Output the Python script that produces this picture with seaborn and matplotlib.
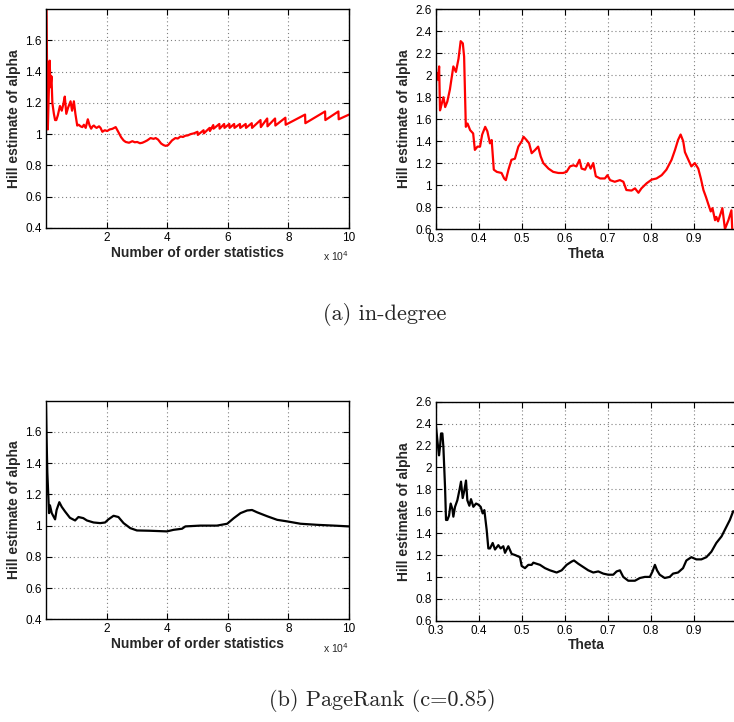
import matplotlib
matplotlib.use("Agg")
import matplotlib.pyplot as plt
import numpy as np
import pandas as pd
import seaborn as sns
from matplotlib.ticker import FormatStrFormatter

# ---- Hill estimates versus number of order statistics (x in units of 10^4) ----
indeg_k = [0.00, 0.02, 0.04, 0.06, 0.09, 0.12, 0.15, 0.18, 0.21, 0.26, 0.30, 0.34,
           0.39, 0.46, 0.52, 0.57, 0.62, 0.67, 0.73, 0.81, 0.86, 0.92, 0.97, 1.03,
           1.08, 1.14, 1.20, 1.25, 1.31, 1.38, 1.44, 1.49, 1.54, 1.58, 1.63, 1.67,
           1.75, 1.80, 1.86, 1.94, 2.02, 2.10, 2.19, 2.30, 2.37, 2.48, 2.56, 2.63,
           2.74, 2.85, 2.93, 3.01, 3.10, 3.18, 3.26, 3.34, 3.45, 3.55, 3.62, 3.70,
           3.80, 3.88, 3.95, 4.03, 4.16, 4.27, 4.35, 4.44, 4.52, 4.60, 4.68, 4.77,
           4.88, 5.00, 5.01, 5.20, 5.21, 5.40, 5.41, 5.52, 5.53, 5.72, 5.73, 5.88,
           5.89, 6.05, 6.06, 6.21, 6.22, 6.40, 6.41, 6.59, 6.60, 6.79, 6.80, 7.08,
           7.09, 7.30, 7.31, 7.56, 7.57, 7.90, 7.91, 8.55, 8.56, 9.21, 9.22, 9.65,
           9.66, 10.00]
indeg_hill_k = [2.00, 1.75, 1.30, 1.03, 1.25, 1.47, 1.30, 1.37, 1.20, 1.13, 1.09, 1.09,
                1.12, 1.18, 1.15, 1.19, 1.24, 1.13, 1.17, 1.21, 1.15, 1.21, 1.13, 1.055,
                1.06, 1.05, 1.045, 1.06, 1.04, 1.095, 1.055, 1.035, 1.05, 1.055, 1.045, 1.04,
                1.05, 1.04, 1.015, 1.025, 1.02, 1.03, 1.034, 1.045, 1.02, 0.98, 0.96, 0.95,
                0.945, 0.955, 0.948, 0.95, 0.942, 0.945, 0.952, 0.96, 0.975, 0.97, 0.975, 0.965,
                0.94, 0.93, 0.925, 0.93, 0.96, 0.975, 0.972, 0.985, 0.982, 0.99, 0.992, 1.00,
                1.005, 1.015, 0.995, 1.025, 1.005, 1.04, 1.02, 1.058, 1.035, 1.065, 1.035, 1.065,
                1.04, 1.065, 1.04, 1.065, 1.04, 1.065, 1.04, 1.065, 1.04, 1.07, 1.04, 1.09,
                1.045, 1.10, 1.05, 1.10, 1.055, 1.105, 1.06, 1.125, 1.07, 1.145, 1.09, 1.145,
                1.095, 1.125]

pr_k = [0.00, 0.02, 0.044, 0.10, 0.13, 0.19, 0.30, 0.35, 0.44, 0.52, 0.63, 0.79,
        0.96, 1.07, 1.23, 1.35, 1.57, 1.79, 1.95, 2.06, 2.23, 2.39, 2.56, 2.78,
        3.00, 3.44, 3.99, 4.21, 4.49, 4.60, 5.09, 5.64, 5.98, 6.20, 6.42, 6.64,
        6.80, 6.97, 7.30, 7.63, 7.96, 8.40, 8.95, 9.50, 10.00]
pr_hill_k = [1.78, 1.55, 1.34, 1.08, 1.13, 1.08, 1.04, 1.10, 1.15, 1.12, 1.09, 1.05,
             1.033, 1.055, 1.048, 1.033, 1.02, 1.016, 1.02, 1.04, 1.063, 1.055, 1.016, 0.984,
             0.969, 0.967, 0.963, 0.973, 0.98, 0.995, 1.0, 1.0, 1.012, 1.048, 1.08, 1.097,
             1.10, 1.085, 1.06, 1.037, 1.027, 1.012, 1.005, 1.0, 0.995]

# ---- Hill estimates versus theta ----
indeg_theta = [0.300, 0.302, 0.305, 0.308, 0.310, 0.314, 0.318, 0.322, 0.327, 0.333,
               0.341, 0.347, 0.353, 0.358, 0.363, 0.366, 0.370, 0.374, 0.380, 0.387,
               0.391, 0.397, 0.403, 0.408, 0.415, 0.420, 0.426, 0.430, 0.435, 0.442,
               0.453, 0.459, 0.463, 0.469, 0.476, 0.484, 0.492, 0.500, 0.504, 0.511,
               0.517, 0.523, 0.531, 0.538, 0.544, 0.550, 0.562, 0.573, 0.585, 0.596,
               0.604, 0.612, 0.620, 0.627, 0.634, 0.639, 0.647, 0.654, 0.660, 0.666,
               0.672, 0.682, 0.693, 0.699, 0.705, 0.716, 0.728, 0.736, 0.743, 0.755,
               0.763, 0.771, 0.778, 0.790, 0.802, 0.813, 0.825, 0.836, 0.848, 0.856,
               0.863, 0.869, 0.875, 0.879, 0.887, 0.894, 0.902, 0.910, 0.916, 0.922,
               0.928, 0.933, 0.939, 0.943, 0.949, 0.952, 0.956, 0.962, 0.966, 0.972,
               0.980, 0.987, 0.989, 0.995]
indeg_hill_theta = [1.90, 2.02, 1.96, 2.08, 1.68, 1.74, 1.80, 1.71, 1.76, 1.87,
                    2.08, 2.03, 2.15, 2.31, 2.29, 2.17, 1.53, 1.56, 1.50, 1.47,
                    1.32, 1.35, 1.35, 1.46, 1.53, 1.49, 1.38, 1.41, 1.14, 1.12,
                    1.11, 1.06, 1.045, 1.14, 1.23, 1.24, 1.35, 1.40, 1.44, 1.41,
                    1.38, 1.29, 1.32, 1.35, 1.26, 1.20, 1.15, 1.12, 1.11, 1.11,
                    1.12, 1.17, 1.18, 1.17, 1.23, 1.15, 1.14, 1.20, 1.15, 1.20,
                    1.08, 1.06, 1.06, 1.09, 1.045, 1.03, 1.045, 1.03, 0.955, 0.95,
                    0.97, 0.93, 0.97, 1.016, 1.05, 1.06, 1.09, 1.14, 1.23, 1.32,
                    1.41, 1.46, 1.40, 1.30, 1.23, 1.17, 1.20, 1.15, 1.06, 0.955,
                    0.89, 0.83, 0.76, 0.79, 0.68, 0.71, 0.67, 0.74, 0.79, 0.60,
                    0.68, 0.77, 0.59, 0.55]

pr_theta = [0.3000, 0.3023, 0.3046, 0.3077, 0.3101, 0.3124, 0.3155, 0.3178, 0.3217, 0.3240,
            0.3271, 0.3310, 0.3348, 0.3387, 0.3410, 0.3449, 0.3503, 0.3550, 0.3588, 0.3627,
            0.3666, 0.3704, 0.3735, 0.3782, 0.3820, 0.3875, 0.3937, 0.3991, 0.4045, 0.4091,
            0.4130, 0.4184, 0.4223, 0.4262, 0.4324, 0.4378, 0.4455, 0.4509, 0.4571, 0.4610,
            0.4687, 0.4765, 0.4842, 0.4958, 0.4997, 0.5074, 0.5152, 0.5229, 0.5268, 0.5345,
            0.5423, 0.5539, 0.5655, 0.5810, 0.5926, 0.6042, 0.6158, 0.6212, 0.6313, 0.6429,
            0.6545, 0.6661, 0.6777, 0.6893, 0.7009, 0.7125, 0.7203, 0.7280, 0.7357, 0.7474,
            0.7628, 0.7745, 0.7861, 0.7976, 0.8037, 0.8093, 0.8142, 0.8204, 0.8320, 0.8437,
            0.8514, 0.8630, 0.8746, 0.8824, 0.8940, 0.9056, 0.9172, 0.9288, 0.9405, 0.9520,
            0.9641, 0.9718, 0.9834, 0.9912]
pr_hill_theta = [2.40, 2.31, 2.22, 2.11, 2.19, 2.31, 2.31, 2.19, 1.82, 1.52,
                 1.52, 1.56, 1.67, 1.62, 1.55, 1.64, 1.70, 1.79, 1.87, 1.72,
                 1.79, 1.88, 1.70, 1.65, 1.71, 1.64, 1.67, 1.66, 1.64, 1.58,
                 1.61, 1.43, 1.26, 1.26, 1.31, 1.25, 1.29, 1.26, 1.28, 1.22,
                 1.28, 1.21, 1.20, 1.18, 1.10, 1.08, 1.11, 1.11, 1.13, 1.12,
                 1.11, 1.08, 1.06, 1.04, 1.06, 1.11, 1.14, 1.15, 1.12, 1.09,
                 1.06, 1.04, 1.05, 1.03, 1.02, 1.02, 1.05, 1.06, 1.00, 0.965,
                 0.965, 0.99, 1.00, 1.00, 1.05, 1.11, 1.06, 1.02, 0.99, 1.00,
                 1.03, 1.04, 1.08, 1.15, 1.18, 1.16, 1.16, 1.18, 1.23, 1.31,
                 1.37, 1.43, 1.52, 1.60]

k_ticks = [2, 4, 6, 8, 10]
theta_ticks = [0.3, 0.4, 0.5, 0.6, 0.7, 0.8, 0.9]
k_yticks = [0.4, 0.6, 0.8, 1.0, 1.2, 1.4, 1.6]
theta_yticks = [0.6, 0.8, 1.0, 1.2, 1.4, 1.6, 1.8, 2.0, 2.2, 2.4, 2.6]

Y_LABEL = "Hill estimate of alpha"
K_LABEL = "Number of order statistics"
THETA_LABEL = "Theta"

sns.set_style("ticks")
plt.rcParams["font.family"] = ["Liberation Sans", "DejaVu Sans"]
plt.rcParams["axes.linewidth"] = 1.0

W, H = 734, 722
fig = plt.figure(figsize=(W / 100, H / 100), dpi=100)


def px_axes(left, top, right, bottom):
    return fig.add_axes([left / W, 1 - bottom / H, (right - left) / W, (bottom - top) / H])


def style(ax, xticks, yticks, xlim, ylim, xlabel):
    ax.set_xlim(*xlim)
    ax.set_ylim(*ylim)
    ax.set_xticks(xticks)
    ax.set_yticks(yticks)
    ax.xaxis.set_major_formatter(FormatStrFormatter("%g"))
    ax.yaxis.set_major_formatter(FormatStrFormatter("%g"))
    ax.grid(True, color="#808080", linestyle=(0, (1, 2.5)), linewidth=0.8)
    ax.tick_params(direction="in", length=4, width=0.8, top=True, right=True,
                   labelsize=8.5, pad=3, colors="black")
    for s in ax.spines.values():
        s.set_color("black")
        s.set_linewidth(1.0)
    ax.set_xlabel(xlabel, fontweight="bold", fontsize=10, labelpad=1)
    ax.set_ylabel(Y_LABEL, fontweight="bold", fontsize=10, labelpad=3)


def draw(ax, x, y, color):
    df = pd.DataFrame({"x": x, "y": y})
    sns.lineplot(data=df, x="x", y="y", ax=ax, sort=False, estimator=None,
                 color=color, linewidth=1.6, clip_on=True)


ax1 = px_axes(46, 9, 349, 228)
draw(ax1, indeg_k, indeg_hill_k, "#ff0000")
style(ax1, k_ticks, k_yticks, (0, 10), (0.4, 1.8), K_LABEL)

ax2 = px_axes(435.7, 9.3, 737, 229)
draw(ax2, indeg_theta, indeg_hill_theta, "#ff0000")
style(ax2, theta_ticks, theta_yticks, (0.3, 1.0), (0.6, 2.6), THETA_LABEL)

ax3 = px_axes(46, 400.7, 349, 619.3)
draw(ax3, pr_k, pr_hill_k, "black")
style(ax3, k_ticks, k_yticks, (0, 10), (0.4, 1.8), K_LABEL)

ax4 = px_axes(435.7, 401.7, 737, 620.7)
draw(ax4, pr_theta, pr_hill_theta, "black")
style(ax4, theta_ticks, theta_yticks, (0.3, 1.0), (0.6, 2.6), THETA_LABEL)

for ax in (ax1, ax3):
    ax.text(1.0, -0.13, r"x 10$^4$", transform=ax.transAxes, ha="right",
            va="center", fontsize=7.5)

fig.text(384.7 / W, 1 - 315 / H, "(a) in-degree", ha="center", va="center",
         family="cmr10", fontsize=16)
fig.text(382.7 / W, 1 - 700 / H, "(b) PageRank (c=0.85)", ha="center", va="center",
         family="cmr10", fontsize=16)

fig.savefig("out.png", dpi=100)
